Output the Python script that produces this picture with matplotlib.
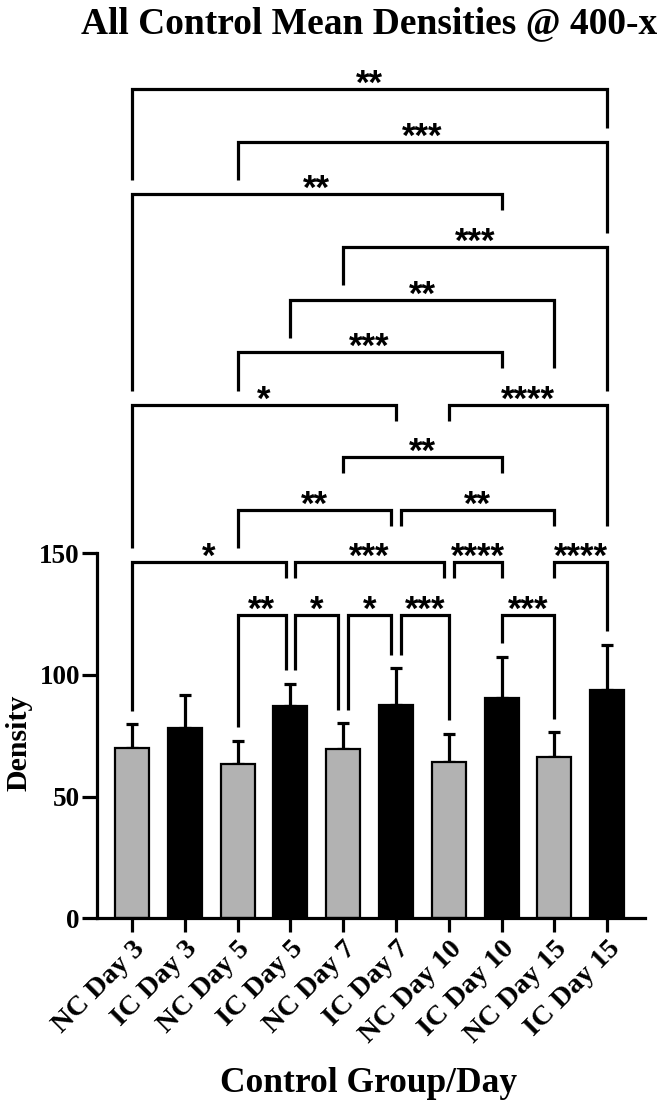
import matplotlib
matplotlib.use("Agg")
import matplotlib.pyplot as plt

# ---------------- data ----------------
groups = ["NC Day 3", "IC Day 3", "NC Day 5", "IC Day 5", "NC Day 7",
          "IC Day 7", "NC Day 10", "IC Day 10", "NC Day 15", "IC Day 15"]
means = [69.9, 78.1, 63.4, 87.4, 69.6, 87.7, 64.1, 90.4, 66.4, 93.8]
sds = [9.8, 13.7, 9.5, 8.9, 10.5, 15.1, 11.6, 17.1, 10.0, 18.5]
bar_colors = ["#b2b2b2", "#000000"] * 5
yticks = [0, 50, 100, 150]

# comparisons: (group a, group b, label, stacking level)
comp_a = [2, 3, 4, 5, 7, 0, 3, 6, 8, 2, 5, 4, 0, 6, 2, 3, 4, 0, 2, 0]
comp_b = [3, 4, 5, 6, 8, 3, 6, 7, 9, 5, 8, 7, 5, 9, 7, 8, 9, 7, 9, 9]
comp_lab = ["**", "*", "*", "***", "***", "*", "***", "****", "****", "**", "**",
            "**", "*", "****", "***", "**", "***", "**", "***", "**"]
comp_lvl = [1, 1, 1, 1, 1, 2, 2, 2, 2, 3, 3, 4, 5, 5, 6, 7, 8, 9, 10, 11]

title = "All Control Mean Densities @ 400-x"
xlabel = "Control Group/Day"
ylabel = "Density"

# ---------------- style ----------------
SERIF = "Liberation Serif"
W, H = 664, 1103
fig = plt.figure(figsize=(W / 100, H / 100), dpi=100)
ax = fig.add_axes([97 / W, 184.7 / H, 548 / W, 851.6 / H])
ax.set_xlim(-0.663, 9.716)
ax.set_ylim(0, 350)

LW = 2.3
x = list(range(len(groups)))
ax.bar(x, means, width=0.645, color=bar_colors, edgecolor="black",
       linewidth=1.6, zorder=2)
ax.errorbar(x, means, yerr=[[0] * len(sds), sds], fmt="none", ecolor="black",
            elinewidth=LW, capsize=4, capthick=LW, zorder=1)

for s in ["top", "right"]:
    ax.spines[s].set_visible(False)
for s in ["left", "bottom"]:
    ax.spines[s].set_linewidth(LW)
ax.spines["left"].set_bounds(0, 150)

ax.set_yticks(yticks)
ax.set_yticklabels([str(t) for t in yticks], fontfamily=SERIF,
                   fontweight="bold", fontsize=19.5)
ax.set_xticks(x)
ax.set_xticklabels(groups, fontfamily=SERIF, fontweight="bold", fontsize=20.5,
                   rotation=45, ha="right", va="top", rotation_mode="anchor")
ax.tick_params(axis="y", length=10.8, width=LW, pad=1.5)
ax.tick_params(axis="x", length=10, width=LW, pad=3)

# ---------------- significance brackets ----------------
BASE, STEP = 124.7, 21.6
D = 0.09
GAP_ERR, GAP_LINE, GAP_TEXT = 5.6, 5.8, 15.0
tops = [m + s for m, s in zip(means, sds)]


def row(l):
    return BASE + STEP * (l - 1)


n = len(comp_a)
xl, xr = [], []
for k in range(n):
    a, b, l = comp_a[k], comp_b[k], comp_lvl[k]
    share_a = any(comp_lvl[q] == l and q != k and (comp_b[q] == a)
                  for q in range(n))
    share_b = any(comp_lvl[q] == l and q != k and (comp_a[q] == b)
                  for q in range(n))
    xl.append(a + (D if share_a else 0))
    xr.append(b - (D if share_b else 0))


def leg_bottom(xp, bar, lvl):
    c = [tops[bar] + GAP_ERR]
    for q in range(n):
        if comp_lvl[q] >= lvl:
            continue
        if xl[q] - 0.1 <= xp <= xr[q] + 0.1:
            c.append(row(comp_lvl[q]) + GAP_LINE)
        cen = (xl[q] + xr[q]) / 2
        hw = len(comp_lab[q]) * 0.126 + 0.32
        if abs(xp - cen) < hw:
            c.append(row(comp_lvl[q]) + GAP_TEXT)
    return max(c)


for k in range(n):
    yb = row(comp_lvl[k])
    y1 = leg_bottom(xl[k], comp_a[k], comp_lvl[k])
    y2 = leg_bottom(xr[k], comp_b[k], comp_lvl[k])
    ax.plot([xl[k], xl[k], xr[k], xr[k]], [y1, yb, yb, y2], color="black",
            lw=LW, solid_capstyle="butt", solid_joinstyle="miter",
            clip_on=False, zorder=3)
    ax.text((xl[k] + xr[k]) / 2, yb - 2.0, comp_lab[k], ha="center",
            va="baseline", fontsize=25, fontweight="bold",
            fontfamily="Liberation Sans", clip_on=False)

# ---------------- titles ----------------
fig.text(369 / W, 1 - 33 / H, title, ha="center", va="baseline",
         fontfamily=SERIF, fontweight="bold", fontsize=27)
fig.text(369 / W, 1 - 1092 / H, xlabel, ha="center", va="baseline",
         fontfamily=SERIF, fontweight="bold", fontsize=25.5)
fig.text(19 / W, 1 - 743 / H, ylabel, ha="center", va="center",
         rotation=90, fontfamily=SERIF, fontweight="bold", fontsize=21.5)

fig.savefig("out.png", dpi=100, facecolor="white")
